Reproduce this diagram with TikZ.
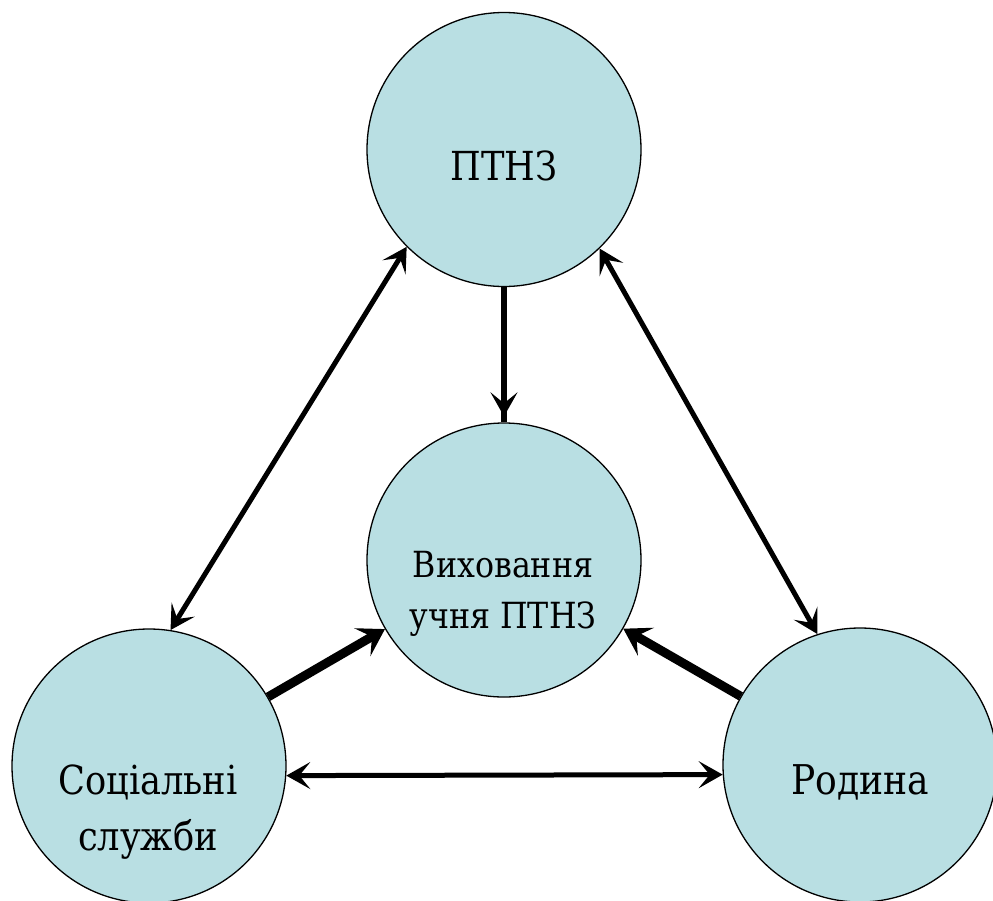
\documentclass[tikz,border=0pt]{standalone}
\usepackage{fontspec}
\setmainfont[FakeStretch=0.88]{DejaVu Serif}
\usetikzlibrary{arrows.meta}
\definecolor{cfill}{HTML}{B9DFE3}
\begin{document}
\begin{tikzpicture}[x=1pt,y=1pt,
  circ/.style={circle, draw=black, line width=1.3pt, fill=cfill, minimum size=274pt, inner sep=0pt},
  big/.style={anchor=base, inner sep=0pt, font=\fontsize{40}{48}\selectfont},
  small/.style={anchor=base, inner sep=0pt, font=\fontsize{36}{42}\selectfont},
  dbl/.style={line width=5pt, {Stealth[length=24pt,width=27pt,inset=11pt]}-{Stealth[length=24pt,width=27pt,inset=11pt]}},
  vert/.style={line width=6pt, -{Stealth[length=24pt,width=27pt,inset=11pt]}},
  fat/.style={line width=9pt, -{Stealth[length=26pt,width=32pt,inset=11pt]}}
]
\useasboundingbox (0,0) rectangle (993,-900);
\node[circ] (t) at (504,-149.5) {};
\node[circ] (c) at (504,-560) {};
\node[circ] (l) at (149,-766) {};
\node[circ] (r) at (860,-765) {};

\node[big] (tt) at (504,-180) {ПТНЗ};
\node[small] (ct1) at (503,-577) {Виховання};
\node[small] (ct2) at (503,-628) {учня ПТНЗ};
\node[big] (lt1) at (148,-794) {Соціальні};
\node[big] (lt2) at (148,-850) {служби};
\node[big, font=\fontsize{41}{48}\selectfont] (rt) at (860,-794) {Родина};

\draw[dbl] (t.225) -- (l.81.6);
\draw[dbl] (t.314.3) -- (r.108);
\draw[dbl] (l.-4.5) -- (r.184.9);
\draw[line width=6pt] (t.south) -- (c.north);
\draw[vert] (t.south) -- ([yshift=6pt]c.north);
\draw[fat] (l) -- (c);
\draw[fat] (r) -- (c);
\end{tikzpicture}
\end{document}
